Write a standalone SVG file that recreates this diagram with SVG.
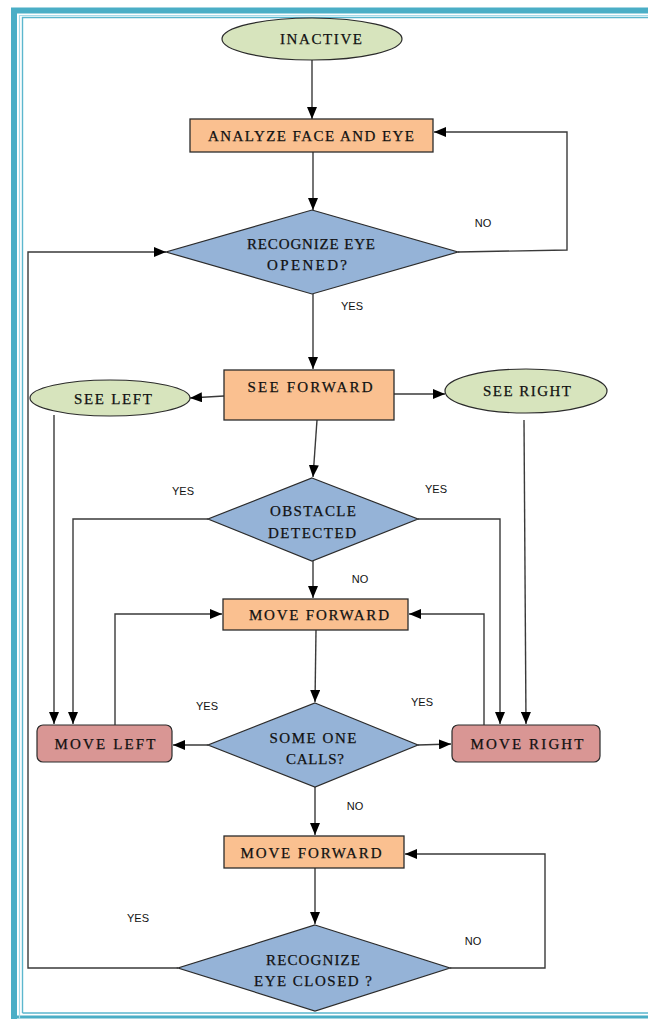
<svg xmlns="http://www.w3.org/2000/svg" width="648" height="1019" viewBox="0 0 648 1019">
<style>
.ell{fill:#d7e4bd;stroke:#2b2b2b;stroke-width:1.2}
.box{fill:#fac090;stroke:#2b2b2b;stroke-width:1.3}
.dia{fill:#95b3d7;stroke:#2b2b2b;stroke-width:1.2}
.mv{fill:#d99694;stroke:#2b2b2b;stroke-width:1.2}
.t{font-family:"Liberation Serif","DejaVu Serif",serif;font-size:15px;fill:#111;text-anchor:middle;stroke:#111;stroke-width:0.25}
.lb{font-family:"Liberation Sans","DejaVu Sans",sans-serif;font-size:11px;fill:#111;text-anchor:middle}
.c{fill:none;stroke:#3a3a3a;stroke-width:1.4;marker-end:url(#ah)}
</style>
<defs>
<marker id="ah" viewBox="0 0 12 10" refX="12" refY="5" markerWidth="12" markerHeight="10" markerUnits="userSpaceOnUse" orient="auto">
<path d="M0,0 L12,5 L0,10 z" fill="#000"/>
</marker>
</defs>
<rect width="648" height="1019" fill="#fff"/>
<g id="border">
<path d="M14,1019 V10.5 H648" fill="none" stroke="#4aaec6" stroke-width="6"/>
<path d="M11,1017 H648" fill="none" stroke="#4aaec6" stroke-width="3"/>
<path d="M19.5,1019 V15.5 H648" fill="none" stroke="#a8dcea" stroke-width="1.2"/>
<path d="M22.5,1013 V17.5 H648 M22.5,1013 H648" fill="none" stroke="#5bb7ce" stroke-width="1.4"/>
</g>
<g id="connectors">
<path class="c" d="M312,60 V119"/>
<path class="c" d="M313,152 V210"/>
<path class="c" d="M458,252 L567,250 V132 H434"/>
<path class="c" d="M178,968 H28 V252 H166"/>
<path class="c" d="M313,294 V369"/>
<path class="c" d="M224,396 L190,398"/>
<path class="c" d="M394,394 H445"/>
<path class="c" d="M317,420 L313,477"/>
<path class="c" d="M208,519 H73 V724"/>
<path class="c" d="M418,519 H500 V724"/>
<path class="c" d="M54,415 V724"/>
<path class="c" d="M524,420 L526,724"/>
<path class="c" d="M313,561 V598"/>
<path class="c" d="M115,725 V614 H222"/>
<path class="c" d="M484,725 V614 H409"/>
<path class="c" d="M316,630 L315,702"/>
<path class="c" d="M208,745 H173"/>
<path class="c" d="M418,745 L451,744"/>
<path class="c" d="M315,787 V835"/>
<path class="c" d="M315,868 V924"/>
<path class="c" d="M450,968 H545 V854 H405"/>
<text class="lb" x="483" y="227">NO</text>
<text class="lb" x="352" y="310">YES</text>
<text class="lb" x="183" y="495">YES</text>
<text class="lb" x="436" y="493">YES</text>
<text class="lb" x="360" y="583">NO</text>
<text class="lb" x="207" y="710">YES</text>
<text class="lb" x="422" y="706">YES</text>
<text class="lb" x="355" y="810">NO</text>
<text class="lb" x="138" y="922">YES</text>
<text class="lb" x="473" y="945">NO</text>
</g>
<g id="inactive">
<ellipse class="ell" cx="312" cy="39" rx="90" ry="21"/>
<text class="t" x="321" y="44" textLength="82" lengthAdjust="spacing">INACTIVE</text>
</g>
<g id="analyze">
<rect class="box" x="190" y="119" width="243" height="33"/>
<text class="t" x="311" y="141" textLength="206" lengthAdjust="spacing">ANALYZE FACE AND EYE</text>
</g>
<g id="eye-opened">
<polygon class="dia" points="312,210 458,252 312,294 166,252"/>
<text class="t" x="311" y="249" textLength="128" lengthAdjust="spacing">RECOGNIZE EYE</text>
<text class="t" x="307" y="270" textLength="80" lengthAdjust="spacing">OPENED?</text>
</g>
<g id="see-forward">
<rect class="box" x="224" y="370" width="170" height="50"/>
<text class="t" x="310" y="392" textLength="125" lengthAdjust="spacing">SEE  FORWARD</text>
</g>
<g id="see-left">
<ellipse class="ell" cx="110" cy="398" rx="80" ry="18"/>
<text class="t" x="113" y="404" textLength="78" lengthAdjust="spacing">SEE LEFT</text>
</g>
<g id="see-right">
<ellipse class="ell" cx="526" cy="391" rx="81" ry="22"/>
<text class="t" x="527" y="396" textLength="88" lengthAdjust="spacing">SEE RIGHT</text>
</g>
<g id="obstacle">
<polygon class="dia" points="312,478 418,519 312,561 208,519"/>
<text class="t" x="313" y="516" textLength="86" lengthAdjust="spacing">OBSTACLE</text>
<text class="t" x="312" y="538" textLength="88" lengthAdjust="spacing">DETECTED</text>
</g>
<g id="move-forward-1">
<rect class="box" x="223" y="599" width="185" height="31"/>
<text class="t" x="319" y="620" textLength="140" lengthAdjust="spacing">MOVE FORWARD</text>
</g>
<g id="some-one-calls">
<polygon class="dia" points="315,703 418,745 315,787 208,745"/>
<text class="t" x="313" y="743" textLength="87" lengthAdjust="spacing">SOME  ONE</text>
<text class="t" x="315" y="764" textLength="58" lengthAdjust="spacing">CALLS?</text>
</g>
<g id="move-left">
<rect class="mv" x="37" y="725" width="135" height="37" rx="6"/>
<text class="t" x="105" y="749" textLength="101" lengthAdjust="spacing">MOVE LEFT</text>
</g>
<g id="move-right">
<rect class="mv" x="452" y="725" width="148" height="37" rx="6"/>
<text class="t" x="527" y="749" textLength="113" lengthAdjust="spacing">MOVE RIGHT</text>
</g>
<g id="move-forward-2">
<rect class="box" x="224" y="836" width="180" height="32"/>
<text class="t" x="311" y="858" textLength="141" lengthAdjust="spacing">MOVE FORWARD</text>
</g>
<g id="eye-closed">
<polygon class="dia" points="315,925 450,968 315,1011 178,968"/>
<text class="t" x="313" y="965" textLength="94" lengthAdjust="spacing">RECOGNIZE</text>
<text class="t" x="313" y="986" textLength="118" lengthAdjust="spacing">EYE CLOSED ?</text>
</g>
</svg>
